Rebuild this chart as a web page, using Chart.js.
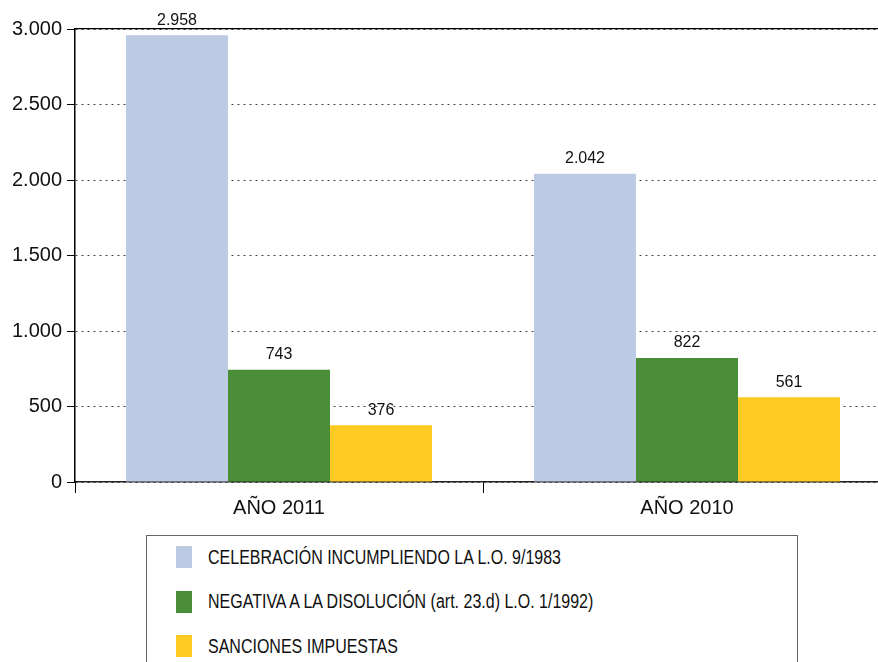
<!DOCTYPE html>
<html>
<head>
<meta charset="utf-8">
<script src="https://cdn.jsdelivr.net/npm/chart.js@4/dist/chart.umd.min.js"></script>
<style>
  html, body { margin: 0; padding: 0; background: #fff; overflow: hidden; width: 878px; height: 662px; }
  #wrap { position: absolute; left: 0; top: 0; width: 891px; height: 530px; }
  #legend {
    position: absolute; left: 146px; top: 535px; width: 650px; height: 200px;
    border: 1px solid #666;
    font-family: 'Liberation Sans', Arial, sans-serif; font-size: 20px; color: #111;
  }
  .item { position: absolute; left: 29px; display: flex; align-items: center; height: 22px; }
  .swatch { width: 16px; height: 22px; margin-right: 16px; flex: none; }
  .txt { display: inline-block; transform: scaleX(0.8); transform-origin: left center; white-space: nowrap; }
</style>
</head>
<body>
<div id="wrap"><canvas id="chart" width="891" height="530"></canvas></div>
<div id="legend"></div>
<script>
const categories = ['AÑO 2011', 'AÑO 2010'];
const seriesNames = [
  'CELEBRACIÓN INCUMPLIENDO LA L.O. 9/1983',
  'NEGATIVA A LA DISOLUCIÓN (art. 23.d) L.O. 1/1992)',
  'SANCIONES IMPUESTAS'
];
const celebracion = [2958, 2042];
const negativa = [743, 822];
const sanciones = [376, 561];
const yTicks = [0, 500, 1000, 1500, 2000, 2500, 3000];
const colors = ['#BCCAE3', '#4A8F37', '#FFCA22'];

const FONT = "'Liberation Sans', Arial, sans-serif";

// 2958 -> "2.958"
function fmt(v) {
  return String(v).replace(/\B(?=(\d{3})+(?!\d))/g, '.');
}

const valueLabels = {
  id: 'valueLabels',
  afterDatasetsDraw(chart) {
    const ctx = chart.ctx;
    ctx.save();
    ctx.font = '16px ' + FONT;
    ctx.fillStyle = '#111';
    ctx.textAlign = 'center';
    ctx.textBaseline = 'bottom';
    chart.data.datasets.forEach((ds, i) => {
      chart.getDatasetMeta(i).data.forEach((bar, j) => {
        ctx.fillText(fmt(ds.data[j]), bar.x, bar.y - 7);
      });
    });
    ctx.restore();
  }
};

const chart = new Chart(document.getElementById('chart'), {
  type: 'bar',
  data: {
    labels: categories,
    datasets: [
      { label: seriesNames[0], data: celebracion, backgroundColor: colors[0] },
      { label: seriesNames[1], data: negativa, backgroundColor: colors[1] },
      { label: seriesNames[2], data: sanciones, backgroundColor: colors[2] }
    ]
  },
  options: {
    responsive: false,
    animation: false,
    categoryPercentage: 0.75,
    barPercentage: 1,
    layout: { padding: { top: 29, right: 0, left: 0, bottom: 0 } },
    plugins: { legend: { display: false }, tooltip: { enabled: false } },
    scales: {
      x: {
        offset: true,
        grid: { display: true, drawOnChartArea: false, tickLength: 11, color: '#000', tickColor: '#000' },
        border: { color: '#222', width: 1.5 },
        ticks: { font: { family: FONT, size: 20 }, color: '#111', padding: 3 },
        afterFit: s => { s.height = 48; }
      },
      x2: {
        type: 'linear',
        position: 'top',
        grid: { display: false },
        ticks: { display: false },
        border: { color: '#000', width: 1.2 },
        afterFit: s => { s.height = 0; }
      },
      y: {
        min: 0,
        max: 3000,
        afterBuildTicks: scale => { scale.ticks = yTicks.map(v => ({ value: v })); },
        grid: { color: '#444', lineWidth: 1, tickColor: '#000', tickLength: 8, tickBorderDash: [] },
        border: { color: '#000', width: 1.5, dash: [2, 4] },
        ticks: { font: { family: FONT, size: 20 }, color: '#111', padding: 5, callback: v => fmt(v) },
        afterFit: s => { s.width = 75; }
      }
    }
  },
  plugins: [valueLabels]
});

// legend, one row per series
const legend = document.getElementById('legend');
chart.data.datasets.forEach((ds, i) => {
  const item = document.createElement('div');
  item.className = 'item';
  item.style.top = (10 + i * 44.5) + 'px';
  item.innerHTML = `<span class="swatch" style="background:${ds.backgroundColor}"></span><span class="txt">${ds.label}</span>`;
  legend.appendChild(item);
});
</script>
</body>
</html>
